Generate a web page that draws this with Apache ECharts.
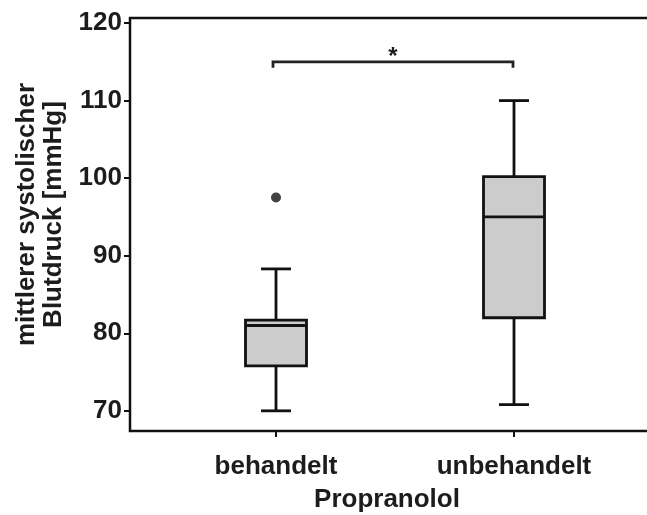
<!DOCTYPE html>
<html><head><meta charset="utf-8">
<script src="https://cdn.jsdelivr.net/npm/echarts@6/dist/echarts.min.js"></script>
<style>html,body{margin:0;padding:0;background:#fff;overflow:hidden}#c{width:647px;height:515px}</style>
</head><body><div id="c"></div>
<script>
const categories = ['behandelt', 'unbehandelt'];
const lowerWhisker = [70, 70.8];
const q1 = [75.8, 82];
const median = [81, 95];
const q3 = [81.7, 100.2];
const upperWhisker = [88.3, 110];
const outliers = [[0, 97.5]];
const yTicks = [70, 80, 90, 100, 110, 120];
const bracketY = 115;
const bracketDrop = 0.75;
const bracketLabel = '*';
const yName = 'mittlerer systolischer\nBlutdruck [mmHg]';
const xName = 'Propranolol';

const FONT = '"Liberation Sans", Arial, sans-serif';
const TXT = '#1c1c1c';
const LINE = '#111';
const YMIN = 67.4, YMAX = 120.65;

const boxData = categories.map((c, i) => [i, lowerWhisker[i], q1[i], median[i], q3[i], upperWhisker[i]]);

const chart = echarts.init(document.getElementById('c'), null, {renderer: 'canvas'});
chart.setOption({
  animation: false,
  backgroundColor: '#fff',
  grid: [
    {left: 130, top: 18, width: 540, bottom: 84, show: true, borderColor: LINE, borderWidth: 2.5,
     backgroundColor: 'transparent', containLabel: false, outerBoundsMode: 'none'},
    {left: 157, width: 476, top: 18, bottom: 84, containLabel: false, outerBoundsMode: 'none'}
  ],
  xAxis: [
    {gridIndex: 0, type: 'value', show: false, min: 0, max: 1},
    {gridIndex: 1, type: 'category', data: categories, boundaryGap: true,
     axisLine: {show: false},
     axisTick: {show: true, alignWithLabel: true, length: 6, lineStyle: {color: LINE, width: 2}},
     axisLabel: {margin: 23, fontSize: 26, fontWeight: 'bold', fontFamily: FONT, color: TXT},
     name: xName, nameLocation: 'middle', nameGap: 56,
     nameTextStyle: {fontSize: 26, fontWeight: 'bold', fontFamily: FONT, color: TXT, padding: [0, 16, 0, 0]}
    }
  ],
  yAxis: [
    {gridIndex: 0, type: 'value', min: YMIN, max: YMAX,
     axisLine: {show: false}, splitLine: {show: false},
     axisTick: {show: true, length: 6, customValues: yTicks, lineStyle: {color: LINE, width: 2}},
     axisLabel: {margin: 8, customValues: yTicks, fontSize: 26, fontWeight: 'bold', fontFamily: FONT, color: TXT},
     name: yName, nameLocation: 'middle', nameGap: 62, nameRotate: 90,
     nameTextStyle: {fontSize: 26, fontWeight: 'bold', fontFamily: FONT, color: TXT, lineHeight: 27, align: 'center', padding: [0, 0, 0, 20]}
    },
    {gridIndex: 1, type: 'value', min: YMIN, max: YMAX, show: false}
  ],
  series: [
    {
      type: 'custom', xAxisIndex: 1, yAxisIndex: 1,
      data: boxData,
      renderItem: function (params, api) {
        const x = api.value(0);
        const pLow = api.coord([x, api.value(1)]);
        const pQ1 = api.coord([x, api.value(2)]);
        const pMed = api.coord([x, api.value(3)]);
        const pQ3 = api.coord([x, api.value(4)]);
        const pHigh = api.coord([x, api.value(5)]);
        const cx = pLow[0];
        const hw = 30.5, cw = 15;
        const ls = {stroke: LINE, lineWidth: 2.8, fill: null};
        return {type: 'group', children: [
          {type: 'line', shape: {x1: cx, y1: pLow[1], x2: cx, y2: pQ1[1]}, style: ls},
          {type: 'line', shape: {x1: cx, y1: pQ3[1], x2: cx, y2: pHigh[1]}, style: ls},
          {type: 'line', shape: {x1: cx - cw, y1: pLow[1], x2: cx + cw, y2: pLow[1]}, style: ls},
          {type: 'line', shape: {x1: cx - cw, y1: pHigh[1], x2: cx + cw, y2: pHigh[1]}, style: ls},
          {type: 'rect', shape: {x: cx - hw, y: pQ3[1], width: hw * 2, height: pQ1[1] - pQ3[1]},
           style: {fill: '#cccccc', stroke: LINE, lineWidth: 2.8}},
          {type: 'line', shape: {x1: cx - hw, y1: pMed[1], x2: cx + hw, y2: pMed[1]}, style: ls}
        ]};
      }
    },
    {
      type: 'scatter', xAxisIndex: 1, yAxisIndex: 1,
      data: outliers, symbol: 'circle', symbolSize: 10,
      itemStyle: {color: '#111'}
    },
    {
      type: 'custom', xAxisIndex: 1, yAxisIndex: 1,
      data: [[0, 1, bracketY, bracketDrop]],
      renderItem: function (params, api) {
        const a = api.coord([api.value(0), api.value(2)]);
        const b = api.coord([api.value(1), api.value(2)]);
        const d = api.coord([api.value(0), api.value(2) - api.value(3)]);
        const x1 = a[0] - 3, x2 = b[0] - 1, y = a[1], yd = d[1];
        return {type: 'group', children: [
          {type: 'polyline', shape: {points: [[x1, yd], [x1, y], [x2, y], [x2, yd]]},
           style: {stroke: '#222', lineWidth: 2.8, fill: null}},
          {type: 'text', style: {text: bracketLabel, x: (x1 + x2) / 2, y: y + 8, align: 'center', verticalAlign: 'bottom',
            font: 'bold 24px ' + FONT, fill: TXT}}
        ]};
      }
    }
  ]
});
</script></body></html>
